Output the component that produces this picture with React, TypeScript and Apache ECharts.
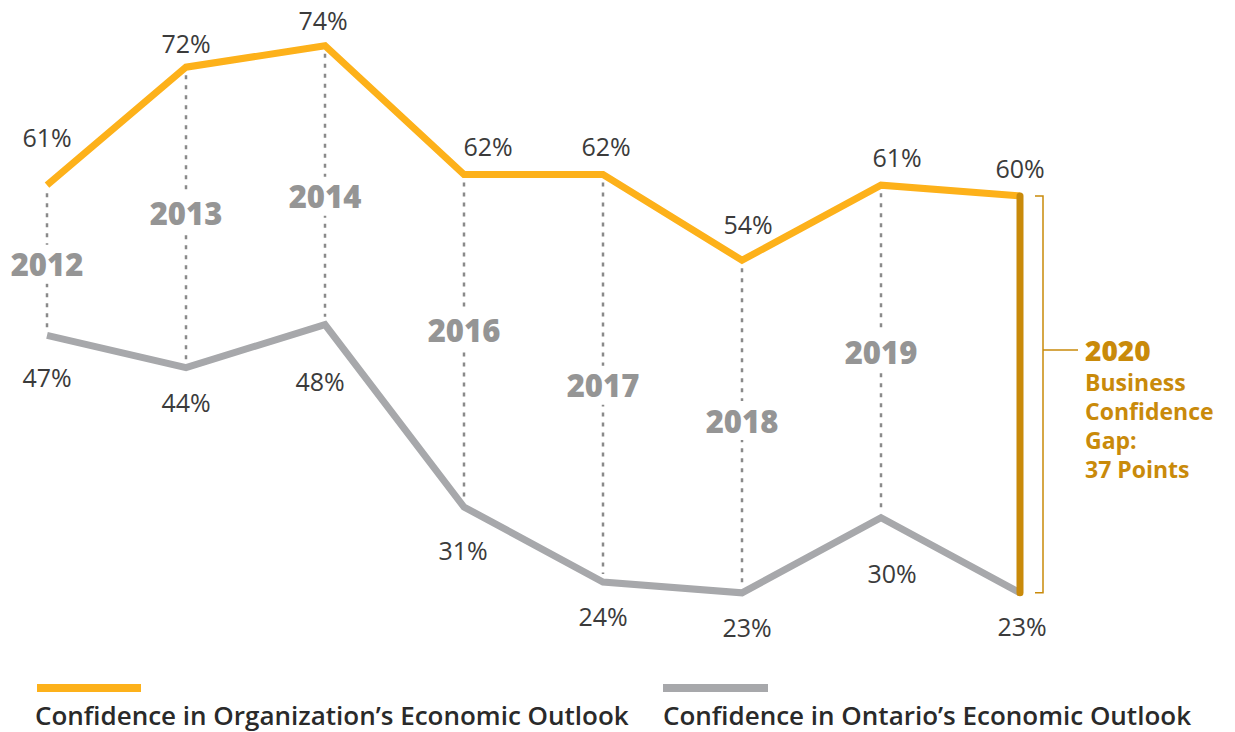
import React, { useEffect, useRef } from "react";
import * as echarts from "echarts";

const years = ["2012", "2013", "2014", "2016", "2017", "2018", "2019", "2020"];
const orgConfidence = [61, 72, 74, 62, 62, 54, 61, 60];
const ontarioConfidence = [47, 44, 48, 31, 24, 23, 30, 23];
const seriesNames = [
  "Confidence in Organization\u2019s Economic Outlook",
  "Confidence in Ontario\u2019s Economic Outlook",
];
const gapTitle = "2020";
const gapLines = ["Business", "Confidence", "Gap:", "37 Points"];

// layout tweaks (pixels)
const orgLabelOffsets = [[0, -48], [0, -24], [-2, -26], [24, -28], [3, -28], [6, -36], [16, -28], [0, -28]];
const ontLabelOffsets = [[0, 42], [0, 34], [-5, 56], [-1, 43], [0, 34], [5, 34], [11, 55], [2, 33]];
const yearLabelOffsets = [4, -4, 11, -11, 7, -6, 1, 0];

const ORANGE = "#FDB11A";
const GREY = "#A7A8AB";
const GOLD = "#C98A0A";
const FONT = "'Open Sans'";

export default function App() {
  const ref = useRef<HTMLDivElement>(null);
  useEffect(() => {
    if (!ref.current) return;
    const chart = echarts.init(ref.current, null, { renderer: "svg" });
    const last = years.length - 1;
    const valueLabel = {
      show: true,
      position: "inside",
      color: "#3b3b3b",
      fontFamily: "Open Sans",
      fontSize: 25,
      formatter: (p: any) => p.value + "%",
    };
    chart.setOption({
      animation: false,
      grid: { left: 47, right: 215, top: 35, bottom: 107 },
      xAxis: { type: "category", data: years, boundaryGap: false, show: false },
      yAxis: { type: "value", min: 20, max: 75, show: false },
      series: [
        {
          type: "line",
          name: seriesNames[0],
          z: 2,
          data: orgConfidence.map((v, i) => ({ value: v, label: { offset: orgLabelOffsets[i] } })),
          symbol: "circle",
          symbolSize: 1,
          itemStyle: { color: "rgba(0,0,0,0)" },
          lineStyle: { color: ORANGE, width: 7, cap: "butt", join: "miter" },
          label: valueLabel,
        },
        {
          type: "line",
          name: seriesNames[1],
          z: 2,
          data: ontarioConfidence.map((v, i) => ({ value: v, label: { offset: ontLabelOffsets[i] } })),
          symbol: "circle",
          symbolSize: 1,
          itemStyle: { color: "rgba(0,0,0,0)" },
          lineStyle: { color: GREY, width: 7, cap: "butt", join: "miter" },
          label: valueLabel,
        },
        {
          type: "custom",
          z: 3,
          data: years.map((y, i) => [i, orgConfidence[i], ontarioConfidence[i]]),
          renderItem: (params: any, api: any) => {
            const i = api.value(0);
            const top = api.coord([i, api.value(1)]);
            const bot = api.coord([i, api.value(2)]);
            if (i < last) {
              return {
                type: "group",
                children: [
                  {
                    type: "line",
                    shape: { x1: top[0], y1: top[1] + 8, x2: bot[0], y2: bot[1] - 8 },
                    style: { stroke: "#8a8a8a", lineWidth: 2.5, lineDash: [4, 6] },
                  },
                  {
                    type: "text",
                    style: {
                      text: years[i],
                      x: top[0],
                      y: (top[1] + bot[1]) / 2 + yearLabelOffsets[i],
                      align: "center",
                      verticalAlign: "middle",
                      fill: "#959595",
                      font: `800 31px ${FONT}`,
                      backgroundColor: "#ffffff",
                      padding: [4, 2],
                    },
                  },
                ],
              };
            }
            const bx = top[0] + 23;
            const midY = top[1] + (bot[1] - top[1]) * 0.388;
            const tx = top[0] + 65;
            const children: any[] = [
              {
                type: "line",
                shape: { x1: top[0], y1: top[1], x2: bot[0], y2: bot[1] },
                style: { stroke: GOLD, lineWidth: 7, lineCap: "round" },
              },
              {
                type: "polyline",
                shape: { points: [[bx - 8, top[1]], [bx, top[1]], [bx, bot[1]], [bx - 8, bot[1]]] },
                style: { stroke: GOLD, lineWidth: 1.5, fill: "none" },
              },
              {
                type: "line",
                shape: { x1: bx, y1: midY, x2: bx + 35, y2: midY },
                style: { stroke: GOLD, lineWidth: 1.5 },
              },
              {
                type: "text",
                style: {
                  text: gapTitle,
                  x: tx,
                  y: midY,
                  align: "left",
                  verticalAlign: "middle",
                  fill: GOLD,
                  font: `800 28px ${FONT}`,
                },
              },
            ];
            gapLines.forEach((t, k) => {
              children.push({
                type: "text",
                style: {
                  text: t,
                  x: tx,
                  y: midY + 32 + k * 29,
                  align: "left",
                  verticalAlign: "middle",
                  fill: GOLD,
                  font: `bold 23px ${FONT}`,
                },
              });
            });
            return { type: "group", children };
          },
        },
      ],
      graphic: [
        { type: "rect", left: 37, top: 684, shape: { width: 104, height: 8 }, style: { fill: ORANGE } },
        {
          type: "text",
          left: 35,
          top: 702,
          style: { text: seriesNames[0], fill: "#2a2a2a", font: `600 26px ${FONT}` },
        },
        { type: "rect", left: 663, top: 684, shape: { width: 105, height: 8 }, style: { fill: GREY } },
        {
          type: "text",
          left: 663,
          top: 702,
          style: { text: seriesNames[1], fill: "#2a2a2a", font: `600 26px ${FONT}` },
        },
      ],
    });
    return () => chart.dispose();
  }, []);
  return (
    <div
      ref={ref}
      style={{ position: "absolute", left: 0, top: 0, width: 1235, height: 732, background: "#fff" }}
    />
  );
}
